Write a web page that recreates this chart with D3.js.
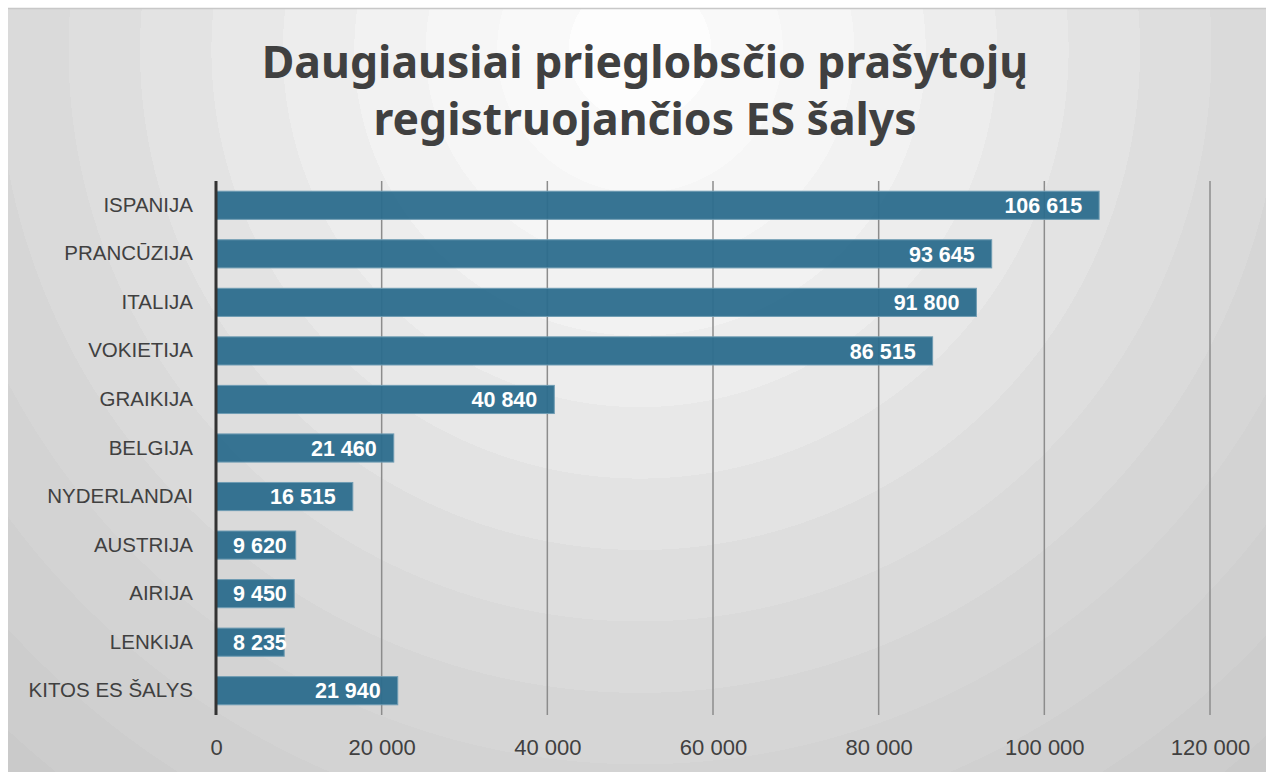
<!DOCTYPE html>
<html>
<head>
<meta charset="utf-8">
<script src="https://cdn.jsdelivr.net/npm/d3@7"></script>
<style>
  html, body { margin: 0; padding: 0; background: #fff; }
  svg { display: block; }
</style>
</head>
<body>
<div id="chart"></div>
<script>
// data
const countries = ['ISPANIJA', 'PRANCŪZIJA', 'ITALIJA', 'VOKIETIJA', 'GRAIKIJA', 'BELGIJA',
  'NYDERLANDAI', 'AUSTRIJA', 'AIRIJA', 'LENKIJA', 'KITOS ES ŠALYS'];
const applicants = [106615, 93645, 91800, 86515, 40840, 21460, 16515, 9620, 9450, 8235, 21940];
const xTicks = [0, 20000, 40000, 60000, 80000, 100000, 120000];
const titleLines = ['Daugiausiai prieglobsčio prašytojų', 'registruojančios ES šalys'];

const width = 1266, height = 772;
const fmt = v => d3.format(',')(v).replace(/,/g, '\u00a0');

const svg = d3.select('#chart').append('svg')
  .attr('width', width)
  .attr('height', height);

// background: concentric grey rings around the title
const defs = svg.append('defs');
const grad = defs.append('radialGradient')
  .attr('id', 'bg')
  .attr('gradientUnits', 'userSpaceOnUse')
  .attr('cx', 640).attr('cy', 50).attr('r', 1000);
const ringColor = d3.scaleLinear()
  .domain([0, 0.25, 0.6, 1])
  .range(['#ffffff', '#f2f2f2', '#dadada', '#c8c8c8']);
const nRings = 14;
for (let i = 0; i < nRings; i++) {
  const c = ringColor((i + 0.5) / nRings);
  grad.append('stop').attr('offset', i / nRings).attr('stop-color', c);
  grad.append('stop').attr('offset', (i + 1) / nRings).attr('stop-color', c);
}

svg.append('rect')
  .attr('x', 8).attr('y', 8)
  .attr('width', width - 8).attr('height', height - 8)
  .attr('fill', 'url(#bg)');
svg.append('line')
  .attr('x1', 8).attr('x2', width)
  .attr('y1', 8.5).attr('y2', 8.5)
  .attr('stroke', '#c8c8c8')
  .attr('stroke-width', 1.5);

// title
svg.append('g').selectAll('text')
  .data(titleLines)
  .enter()
  .append('text')
  .attr('x', 645)
  .attr('y', (d, i) => 78 + i * 57)
  .attr('text-anchor', 'middle')
  .style('font-family', '"Noto Sans", "Open Sans", sans-serif')
  .style('font-weight', 'bold')
  .style('font-size', '44.5px')
  .style('fill', '#404040')
  .text(d => d);

// scales
const x = d3.scaleLinear()
  .domain([0, 120000])
  .range([216, 1210]);

const y = d3.scaleBand()
  .domain(countries)
  .range([181.5, 714.5])
  .paddingInner(0.42)
  .paddingOuter(0.2);

// gridlines
svg.append('g').selectAll('line')
  .data(xTicks.slice(1))
  .enter()
  .append('line')
  .attr('x1', d => x(d)).attr('x2', d => x(d))
  .attr('y1', 181).attr('y2', 715)
  .attr('stroke', '#8c8c8c')
  .attr('stroke-width', 1.5);

// bars
svg.append('g').selectAll('rect')
  .data(countries)
  .enter()
  .append('rect')
  .attr('x', x(0))
  .attr('y', d => y(d))
  .attr('width', (d, i) => x(applicants[i]) - x(0))
  .attr('height', y.bandwidth())
  .attr('fill', '#2c6d8d')
  .attr('fill-opacity', 0.95)
  .attr('stroke', '#6f9cb3')
  .attr('stroke-width', 1);

// value labels, inside end (pushed right when the bar is too short)
const labels = svg.append('g').selectAll('text')
  .data(countries)
  .enter()
  .append('text')
  .attr('y', d => y(d) + y.bandwidth() / 2)
  .attr('dy', '0.36em')
  .style('font-family', '"Liberation Sans", Arial, sans-serif')
  .style('font-weight', 'bold')
  .style('font-size', '21.5px')
  .style('fill', '#fff')
  .text((d, i) => fmt(applicants[i]));

labels.each(function (d, i) {
  const w = this.getComputedTextLength();
  const left = Math.max(x(applicants[i]) - 17 - w, x(0) + 17);
  d3.select(this).attr('x', left);
});

// category axis
const yAxis = svg.append('g')
  .attr('transform', `translate(${x(0)},0)`)
  .call(d3.axisLeft(y).tickSize(0).tickPadding(23));
yAxis.select('.domain').remove();
yAxis.selectAll('text')
  .style('font-family', '"Liberation Sans", Arial, sans-serif')
  .style('font-size', '20.5px')
  .style('fill', '#404040');

svg.append('line')
  .attr('x1', x(0)).attr('x2', x(0))
  .attr('y1', 181).attr('y2', 715)
  .attr('stroke', '#333')
  .attr('stroke-width', 3);

// value axis
const xAxis = svg.append('g')
  .attr('transform', 'translate(0,715)')
  .call(d3.axisBottom(x).tickValues(xTicks).tickFormat(fmt).tickSize(0).tickPadding(24));
xAxis.select('.domain').remove();
xAxis.selectAll('text')
  .style('font-family', '"Liberation Sans", Arial, sans-serif')
  .style('font-size', '22px')
  .style('fill', '#404040');
</script>
</body>
</html>
